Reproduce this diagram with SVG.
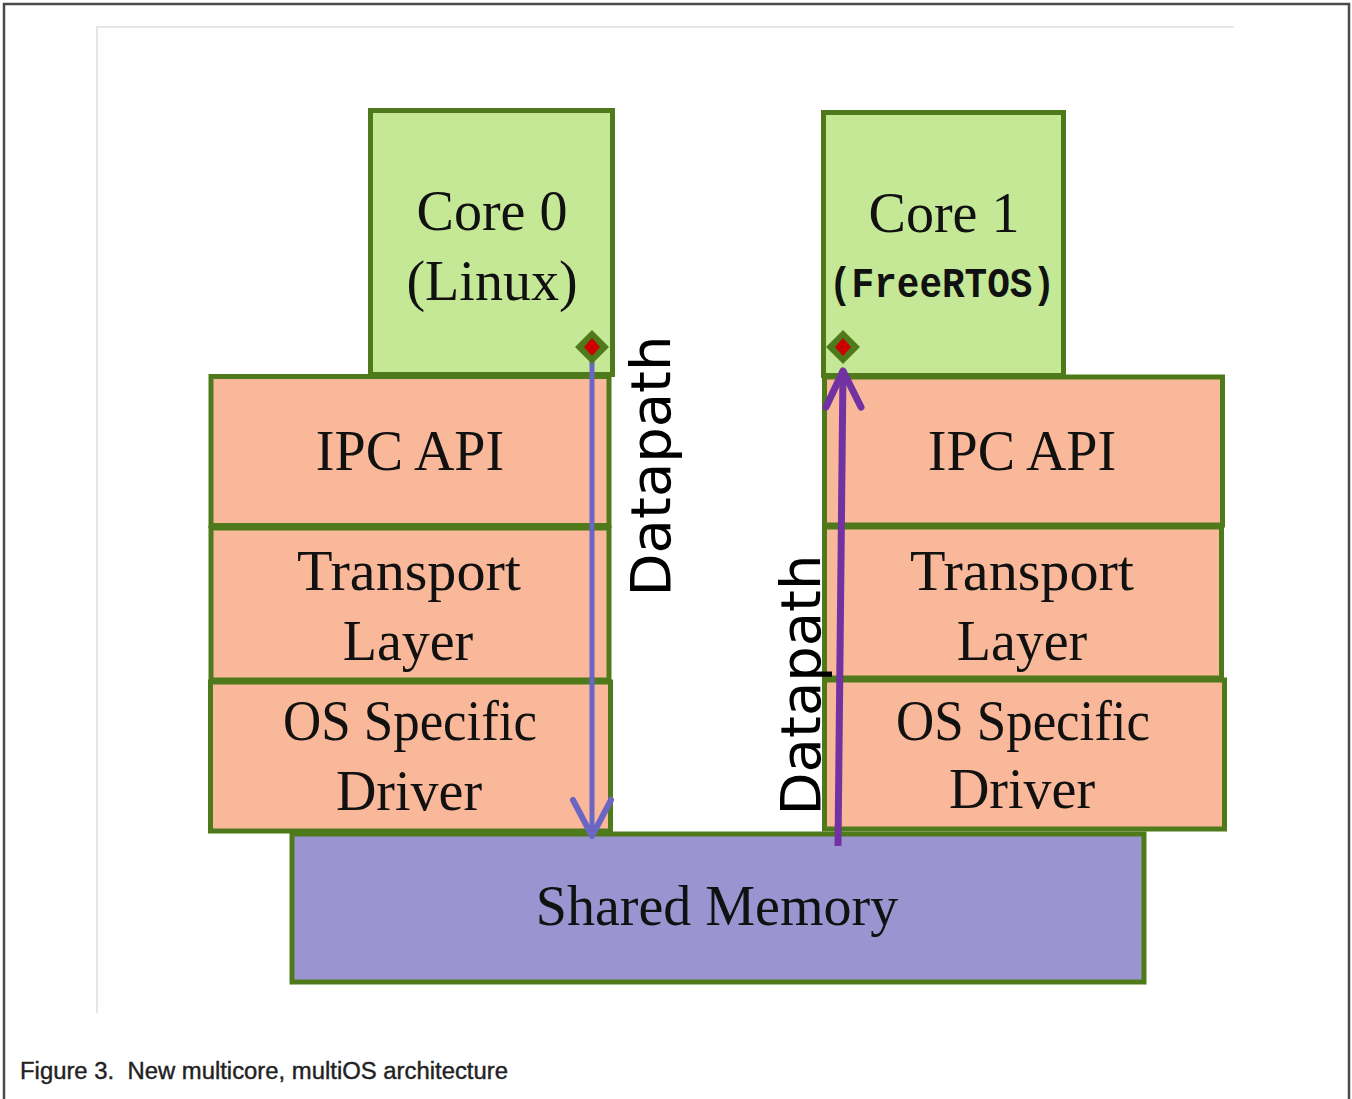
<svg xmlns="http://www.w3.org/2000/svg" width="1352" height="1099" viewBox="0 0 1352 1099">
<defs>
<style>
.box{stroke:#4e7a1b;stroke-width:5}
.core{fill:#c5e896}
.layer{fill:#f8b899}
.mem{fill:#9a95d1}
.lbl{font-family:"Liberation Serif","DejaVu Serif",serif;font-size:56px;fill:#111;text-anchor:middle}
.dp{font-family:"DejaVu Sans",sans-serif;font-size:56px;fill:#000;text-anchor:middle}
</style>
</defs>
<rect width="1352" height="1099" fill="#fff"/>
<rect x="4" y="4" width="1345" height="1200" fill="none" stroke="#4a4a4a" stroke-width="2.5"/>
<path d="M97 1013 V27 H1234" fill="none" stroke="#e6e6e6" stroke-width="2"/>

<g id="shared-memory">
<rect class="box mem" x="292" y="834" width="852" height="148"/>
<text class="lbl" x="717" y="925">Shared Memory</text>
</g>
<g id="left-os-driver">
<rect class="box layer" x="210.5" y="682" width="400" height="149"/>
<text class="lbl" x="410" y="740" textLength="254" lengthAdjust="spacingAndGlyphs">OS Specific</text>
<text class="lbl" x="409" y="810">Driver</text>
</g>
<g id="left-transport">
<rect class="box layer" x="211" y="528" width="398" height="152"/>
<text class="lbl" x="409" y="590" textLength="224" lengthAdjust="spacingAndGlyphs">Transport</text>
<text class="lbl" x="408" y="660">Layer</text>
</g>
<g id="left-ipc-api">
<rect class="box layer" x="211" y="376.5" width="398" height="149"/>
<text class="lbl" x="410" y="470">IPC API</text>
</g>
<g id="core0">
<rect class="box core" x="370.5" y="110.5" width="242" height="264"/>
<text class="lbl" x="492" y="230">Core 0</text>
<text class="lbl" x="492" y="300">(Linux)</text>
</g>
<g id="right-os-driver">
<rect class="box layer" x="824.5" y="680" width="400" height="149"/>
<text class="lbl" x="1023" y="740" textLength="254" lengthAdjust="spacingAndGlyphs">OS Specific</text>
<text class="lbl" x="1022" y="808">Driver</text>
</g>
<g id="right-transport">
<rect class="box layer" x="824.5" y="527" width="397" height="151"/>
<text class="lbl" x="1022" y="590" textLength="224" lengthAdjust="spacingAndGlyphs">Transport</text>
<text class="lbl" x="1022" y="660">Layer</text>
</g>
<g id="right-ipc-api">
<rect class="box layer" x="824.5" y="377" width="398" height="148"/>
<text class="lbl" x="1022" y="470">IPC API</text>
</g>
<g id="core1">
<rect class="box core" x="823.5" y="112.5" width="240" height="263"/>
<text class="lbl" x="944" y="232">Core 1</text>
<text x="942" y="297" font-family="'Liberation Mono','DejaVu Sans Mono',monospace" font-size="42" font-weight="bold" fill="#111" text-anchor="middle" textLength="226" lengthAdjust="spacingAndGlyphs">(FreeRTOS)</text>
</g>

<g id="connectors">
<line x1="592" y1="358" x2="592" y2="836" stroke="#6b66c3" stroke-width="5"/>
<path d="M573 800 L592 836 L611 800" fill="none" stroke="#6b66c3" stroke-width="6" stroke-linecap="round" stroke-linejoin="round"/>
<line x1="838" y1="846" x2="843" y2="370" stroke="#7232a2" stroke-width="7"/>
<path d="M826 407 L843 371 L861 407" fill="none" stroke="#7232a2" stroke-width="7" stroke-linecap="round" stroke-linejoin="round"/>
<path d="M592 330 L609 347 L592 364 L575 347 Z" fill="#4e7a1b"/>
<path d="M592 338 L600 347 L592 356 L584 347 Z" fill="#cc0000"/>
<path d="M843 330 L860 347 L843 364 L826 347 Z" fill="#4e7a1b"/>
<path d="M843 338 L851 347 L843 356 L835 347 Z" fill="#cc0000"/>
</g>

<g id="datapath-labels">
<text class="dp" transform="translate(670 466) rotate(-90)">Datapath</text>
<text class="dp" transform="translate(820 685) rotate(-90)">Datapath</text>
</g>

<text x="20" y="1079" xml:space="preserve" font-family="'Liberation Sans',Arial,sans-serif" font-size="23" fill="#222" stroke="#222" stroke-width="0.4" textLength="488" lengthAdjust="spacingAndGlyphs">Figure 3.  New multicore, multiOS architecture</text>
</svg>
